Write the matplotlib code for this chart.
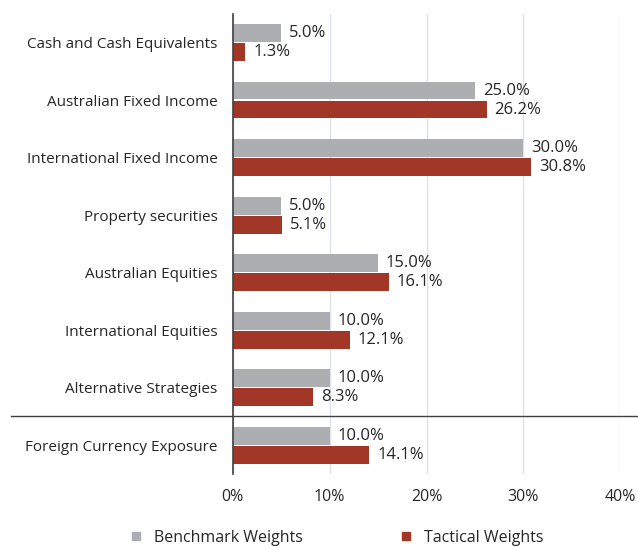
import numpy as np
import matplotlib.pyplot as plt
from matplotlib.lines import Line2D

plt.rcParams['font.family'] = ['Open Sans', 'DejaVu Sans']

categories = ['Cash and Cash Equivalents', 'Australian Fixed Income', 'International Fixed Income',
              'Property securities', 'Australian Equities', 'International Equities',
              'Alternative Strategies', 'Foreign Currency Exposure']
benchmark = [5.0, 25.0, 30.0, 5.0, 15.0, 10.0, 10.0, 10.0]
tactical = [1.3, 26.2, 30.8, 5.1, 16.1, 12.1, 8.3, 14.1]
xticks = [0, 10, 20, 30, 40]

grey = '#ADAEB1'
red = '#A33727'
txt = '#262626'

fig = plt.figure(figsize=(6.38, 5.48), dpi=100)
ax = fig.add_axes([0.365, 0.135, 0.607, 0.84])

y = np.arange(len(categories))
h = 0.31
ax.barh(y - h / 2 - 0.01, benchmark, height=h, color=grey, zorder=3)
ax.barh(y + h / 2 + 0.01, tactical, height=h, color=red, zorder=3)

for yi, b, t in zip(y, benchmark, tactical):
    ax.text(b + 0.8, yi - h / 2 - 0.01, f'{b:.1f}%', va='center', ha='left', fontsize=12, color=txt)
    ax.text(t + 0.8, yi + h / 2 + 0.01, f'{t:.1f}%', va='center', ha='left', fontsize=12, color=txt)

ax.set_yticks(y)
ax.set_yticklabels(categories, fontsize=11, color=txt)
ax.set_ylim(len(categories) - 0.5, -0.5)
ax.set_xlim(0, 40)
ax.set_xticks(xticks)
ax.set_xticklabels([f'{v}%' for v in xticks], fontsize=11.5, color=txt)
ax.tick_params(axis='y', length=0, pad=11)
ax.tick_params(axis='x', length=0, pad=11)
ax.grid(axis='x', color='#DCE1EA', linewidth=1, zorder=0)
for s in ['top', 'right', 'bottom']:
    ax.spines[s].set_visible(False)
ax.spines['left'].set_color('#404040')
ax.spines['left'].set_linewidth(1.2)
ax.spines['left'].set_zorder(4)

# separator line between the asset classes and currency exposure
sep_y = ax.transData.transform((0, 6.5))[1]
sep_fig = fig.transFigure.inverted().transform((0, sep_y))[1]
fig.add_artist(Line2D([0.017, 1.0], [sep_fig, sep_fig], color='#404040', linewidth=1))

handles = [Line2D([], [], marker='s', linestyle='', color=grey, markersize=6),
           Line2D([], [], marker='s', linestyle='', color=red, markersize=6)]
fig.legend(handles, ['Benchmark Weights', 'Tactical Weights'], loc='lower center',
           bbox_to_anchor=(0.52, -0.022), ncol=2, frameon=False, fontsize=11.5,
           columnspacing=5.5, handletextpad=0.1, labelcolor=txt)

fig.savefig('out.png', dpi=100)
